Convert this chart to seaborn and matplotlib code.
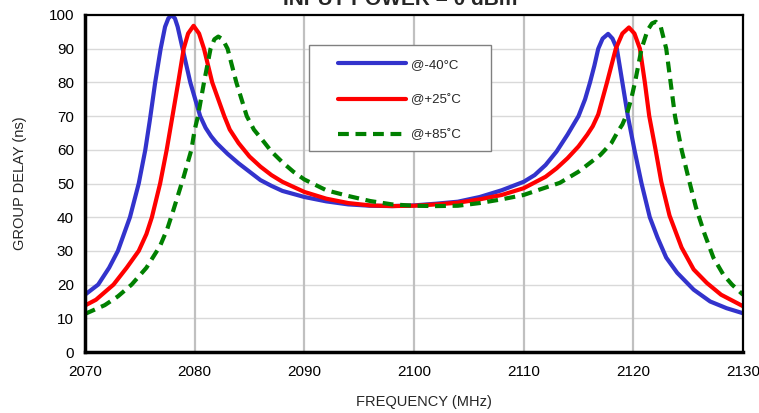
import numpy as np
import pandas as pd
import matplotlib
matplotlib.use("Agg")
import matplotlib.pyplot as plt
from matplotlib.patches import Rectangle
import seaborn as sns

# Group delay vs frequency, one array pair per temperature
freq_m40 = [2070, 2071.2, 2072.2, 2073, 2074.1, 2074.9, 2075.5, 2075.9, 2076.4, 2076.9,
            2077.3, 2077.6, 2077.9, 2078.2, 2078.45, 2078.9, 2079.6, 2080.5, 2081, 2081.5,
            2082, 2083, 2084, 2085, 2086, 2087, 2088, 2090, 2092, 2094, 2096, 2098, 2100,
            2102, 2104, 2106, 2108, 2110, 2111, 2112, 2113, 2114, 2115, 2115.6, 2116.05,
            2116.45, 2116.8, 2117.2, 2117.7, 2118.1, 2118.5, 2118.95, 2119.5, 2120.1, 2120.75,
            2121.5, 2122.2, 2123, 2124, 2125.5, 2127, 2128.5, 2130]
gd_m40 = [17, 20, 25, 30, 40, 50, 60, 68.5, 80, 90,
          96.5, 99, 100, 99, 96.5, 90, 80, 70, 66.5, 64,
          62, 58.8, 56, 53.5, 51, 49.3, 47.8, 46, 44.7, 43.8, 43.4, 43.3, 43.5,
          44, 44.6, 46, 48, 50.5, 52.5, 55.5, 59.5, 64.5, 70, 75, 80,
          85, 90, 93, 94.4, 93, 90, 81, 70, 60, 50,
          40, 34, 28, 23.5, 18.5, 15, 13, 11.5]

freq_p25 = [2070, 2071, 2072.6, 2073.8, 2074.9, 2075.6, 2076.1, 2076.85, 2077.45, 2077.95,
            2078.5, 2079, 2079.4, 2079.9, 2080.4, 2080.85, 2081.6, 2082.7, 2083.2, 2084,
            2085, 2086, 2087, 2088, 2090, 2092, 2094, 2096, 2098, 2100, 2102, 2104, 2106,
            2108, 2110, 2112, 2113, 2114, 2115, 2115.8, 2116.3, 2116.8, 2117.6, 2118.4, 2119,
            2119.6, 2120.1, 2120.6, 2121.05, 2121.45, 2122, 2122.55, 2123.3, 2124.4, 2125.5,
            2126.7, 2128, 2130]
gd_p25 = [13.8, 15.5, 20, 25, 30, 35, 40, 50, 60, 69.5,
          80, 90, 94.5, 96.8, 94.5, 90, 80, 70, 66, 62,
          58, 55, 52.5, 50.5, 47.5, 45.5, 44.2, 43.5, 43.3, 43.4, 43.8, 44.3, 45.3,
          46.6, 48.6, 52, 54.5, 57.5, 61, 64.5, 67, 70.5, 80, 90, 94.5,
          96.3, 94.5, 90, 80, 70, 60.5, 50.5, 40.5, 31, 24.5,
          20.5, 17, 13.6]

freq_p85 = [2070, 2071.8, 2073, 2074.25, 2075.6, 2076.85, 2077.5, 2078.05, 2079, 2079.7,
            2080, 2080.3, 2080.85, 2081.45, 2081.8, 2082.15, 2082.55, 2083, 2083.8, 2084.75,
            2085.4, 2086.3, 2087, 2088, 2089, 2090, 2092, 2094, 2096, 2098, 2100, 2102, 2104,
            2106, 2108, 2110, 2112, 2113.3, 2115, 2116, 2117, 2118, 2118.6, 2119, 2119.4,
            2119.8, 2120.15, 2120.75, 2121.3, 2121.7, 2122.05, 2122.5, 2123, 2123.4, 2123.8,
            2124.4, 2125, 2125.7, 2126.5, 2127.3, 2128.2, 2129, 2130]
gd_p85 = [11.3, 13.9, 16.5, 20, 25, 31.5, 36.5, 42, 52, 60,
          65.9, 70, 80, 90, 92.8, 93.6, 92.8, 90, 80, 70,
          66, 62.4, 59.5, 56.3, 53.5, 51.2, 48, 46.3, 44.8, 43.8, 43.4, 43.3, 43.4,
          44.2, 45.3, 46.6, 48.8, 50.2, 53.5, 56, 58.5, 62, 65.5, 67.5, 70.5,
          75, 80, 90, 95.5, 97.5, 98, 96.5, 90, 80, 70,
          60, 52, 43, 35, 28, 23, 20, 17]

labels = ["@-40°C", "@+25˚C", "@+85˚C"]
colors = ["#3333CC", "#FF0000", "#008000"]

xticks = [2070, 2080, 2090, 2100, 2110, 2120, 2130]
yticks = [0, 10, 20, 30, 40, 50, 60, 70, 80, 90, 100]

sns.set_style("white")
plt.rcParams["font.family"] = ["Liberation Sans", "DejaVu Sans"]

fig = plt.figure(figsize=(7.59, 4.13), dpi=100)
ax = fig.add_axes([85 / 759, 1 - 352 / 413, 658 / 759, 337 / 413])

# gridlines: light horizontal, darker vertical
for y in yticks[1:-1]:
    ax.axhline(y, color="#d9d9d9", lw=1, zorder=0)
for x in xticks[1:-1]:
    ax.axvline(x, color="#c0c0c0", lw=1.6, zorder=0)

series = [(freq_m40, gd_m40), (freq_p25, gd_p25), (freq_p85, gd_p85)]
for (f, g), lab, col in zip(series, labels, colors):
    df = pd.DataFrame({"freq": f, "gd": g})
    sns.lineplot(data=df, x="freq", y="gd", ax=ax, color=col, lw=3, label=lab,
                 sort=False, zorder=3)
for ln in ax.lines[-3:]:
    ln.set_solid_joinstyle("round")
ax.lines[-1].set_dashes([2.6, 1.6])

ax.set_xlim(2070, 2130)
ax.set_ylim(0, 100)
ax.set_xticks(xticks)
ax.set_yticks(yticks)
ax.tick_params(axis="both", labelsize=11, colors="black", direction="out")
ax.tick_params(axis="y", length=4, width=1.5, pad=4)
ax.tick_params(axis="x", length=3, width=1.5, pad=6)

for side in ["left", "bottom"]:
    ax.spines[side].set_linewidth(2.5)
for side in ["top", "right"]:
    ax.spines[side].set_linewidth(1.6)
for s in ax.spines.values():
    s.set_color("black")
    s.set_zorder(5)

ax.set_xlabel("FREQUENCY (MHz)", fontsize=10.5, va="center")
ax.set_ylabel("GROUP DELAY (ns)", fontsize=10.5, va="center")
ax.xaxis.set_label_coords(0.515, -(402 - 352) / 337)
ax.yaxis.set_label_coords((20 - 85) / 658, 0.5)

# title sits mostly above the canvas, as in the reference
fig.text(400 / 759, 1 - 4.7 / 413, "INPUT POWER = 0 dBm", ha="center", va="baseline",
         fontsize=15, fontweight="bold")

# legend box drawn by hand so it can be roomy
box = Rectangle((309 / 759, 1 - 151 / 413), 182 / 759, 106 / 413, transform=fig.transFigure,
                facecolor="white", edgecolor="#808080", lw=1, zorder=6, clip_on=False)
ax.add_patch(box)
leg = ax.legend(loc="upper left", bbox_to_anchor=(331 / 759, 1 - 52 / 413),
                bbox_transform=fig.transFigure, frameon=False, fontsize=9.5,
                handlelength=5.15, handletextpad=0.45, labelspacing=1.75, borderpad=0)
leg.set_zorder(7)

fig.savefig("out.png", dpi=100)
